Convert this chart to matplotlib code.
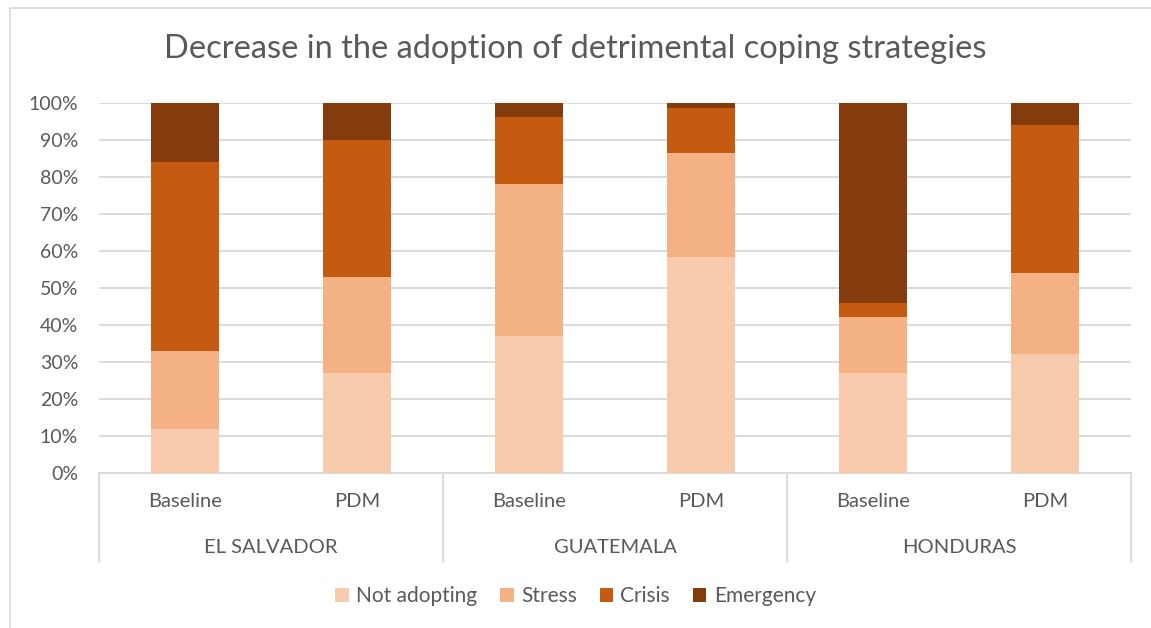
import matplotlib
matplotlib.use("Agg")
import matplotlib.pyplot as plt
import matplotlib.transforms as mtransforms
from matplotlib.patches import Rectangle
import numpy as np

# data (percent of households)
countries = ["EL SALVADOR", "GUATEMALA", "HONDURAS"]
rounds = ["Baseline", "PDM"]
series = ["Not adopting", "Stress", "Crisis", "Emergency"]
not_adopting = [12, 27, 37, 58.4, 27, 32]
stress = [21, 26, 41, 27.9, 15, 22]
crisis = [51, 37, 18, 12.2, 4, 40]
emergency = [16, 10, 4, 1.5, 54, 6]
colors = ["#F8CBAD", "#F4B183", "#C55A11", "#843C0C"]

TXT = "#595959"
GRID = "#D9D9D9"
plt.rcParams["font.family"] = ["Lato", "DejaVu Sans"]

fig = plt.figure(figsize=(11.51, 6.28), dpi=100)
W, H = 1151, 628
# outer chart border
fig.patches.append(Rectangle((10 / W, -0.01), 1.02, 1 - 8 / H + 0.01,
                             transform=fig.transFigure, fill=False,
                             edgecolor=GRID, lw=1.2))

ax = fig.add_axes([99 / W, 155 / H, 1032 / W, 370.5 / H])
x = np.arange(len(not_adopting))
bottom = np.zeros(len(x))
for name, vals, c in zip(series, [not_adopting, stress, crisis, emergency], colors):
    vals = np.array(vals, dtype=float)
    ax.bar(x, vals, 0.4, bottom=bottom, color=c, label=name, zorder=3)
    bottom += vals

ax.set_xlim(-0.5, len(x) - 0.5)
ax.set_ylim(0, 100)
ax.set_yticks(np.arange(0, 101, 10))
ax.set_yticklabels([f"{v}%" for v in range(0, 101, 10)])
ax.yaxis.grid(True, color=GRID, lw=1.3, zorder=0)
for s in ["top", "right", "left"]:
    ax.spines[s].set_visible(False)
ax.spines["bottom"].set_color(GRID)
ax.spines["bottom"].set_linewidth(1.3)
ax.tick_params(axis="y", length=0, labelsize=14, labelcolor=TXT, pad=15)
ax.set_xticks([])

# two-level category axis
tr = mtransforms.blended_transform_factory(ax.transData, ax.transAxes)
for i in x:
    ax.text(i, -0.078, rounds[i % 2], transform=tr, ha="center", va="center",
            fontsize=14.5, color=TXT)
for j, name in enumerate(countries):
    ax.text(2 * j + 0.5, -0.2, name, transform=tr, ha="center", va="center",
            fontsize=14.5, color=TXT)
for b in [-0.5, 1.5, 3.5, 5.5]:
    ax.plot([b, b], [0, -0.24], transform=tr, color=GRID, lw=1.3, clip_on=False)

fig.text(0.5, 1 - 49 / H, "Decrease in the adoption of detrimental coping strategies",
         ha="center", va="center", fontsize=23.5, color=TXT)

leg = fig.legend(loc="center", bbox_to_anchor=(0.5, 1 - 596 / H), ncol=4,
                 frameon=False, fontsize=15, handlelength=0.65, handleheight=0.65,
                 handletextpad=0.35, columnspacing=1.1)
for t in leg.get_texts():
    t.set_color(TXT)

fig.savefig("out.png", dpi=100)
